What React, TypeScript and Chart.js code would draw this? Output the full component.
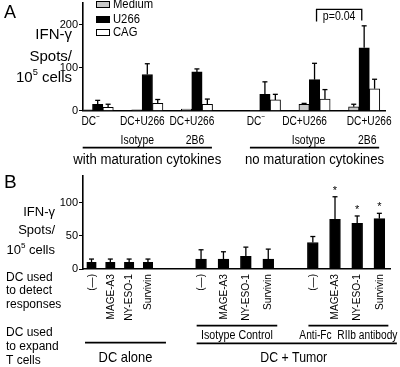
import React, { useEffect, useRef } from "react";
import { Chart, registerables } from "chart.js";

Chart.register(...registerables);

// ---------------- Panel A data ----------------
const aSeriesNames = ["Medium", "U266", "CAG"];
const aLabelsTop = ["DC-", "DC+U266", "DC+U266", "DC-", "DC+U266", "DC+U266"];
const aLabelsBottom = ["", "Isotype", "2B6", "", "Isotype", "2B6"];
const aSections = ["with maturation cytokines", "no maturation cytokines"];
const aMedium = [2, 2, 4, 1, 15, 9];
const aMediumErr = [0, 0, 0, 0, 2, 6];
const aU266 = [15, 84, 90, 38, 72, 146];
const aU266Err = [9, 25, 7, 29, 38, 51];
const aCAG = [8, 17, 15, 25, 27, 51];
const aCAGErr = [7, 9, 12, 13, 22, 22];
const aTicks = [0, 100, 200];
const aMax = 250;
const aPValue = "p=0.04";
const yLabelLines = ["IFN-γ", "Spots/", "10^5 cells"];

// ---------------- Panel B data ----------------
const bAntigens = ["(—)", "MAGE-A3", "NY-ESO-1", "Survivin"];
const bExpandGroups = ["DC alone", "DC + Tumor"];
const bTumorSub = ["Isotype Control", "Anti-Fc  RIIb antibody"];
const bValues = [10, 10, 10, 10, 15, 15, 19, 15, 40, 75, 69, 76];
const bErr = [5, 5, 5, 5, 14, 11, 14, 15, 9, 34, 11, 8];
const bSignificant = [false, false, false, false, false, false, false, false, false, true, true, true];
const bTicks = [0, 50, 100];
const bMax = 140;
const bRowLabels = [
  ["DC used", "to detect", "responses"],
  ["DC used", "to expand", "T cells"],
];

// ---------------- layout / style constants ----------------
const FONT = "'Liberation Sans', Arial, Helvetica, sans-serif";
const A_GAP = 0.37;
const A_OFFSETS = [-0.21, 0, 0.21];
const A_COLORS = ["#c8c8c8", "#000000", "#ffffff"];
const A_LABEL_SHIFT = [-7, -5, -5, -9, -10, 5];
const A_SUB_SHIFT = [0, -10, -2, 0, -6, 3];
const B_GROUP_START = [0.38, 5.27, 10.26];
const B_GROUP_STEP = [0.84, 1.0, 0.99];
const B_BAR_W = [9.5, 10.8, 10.8];

type Part = { t: string; sup?: boolean };

function parseParts(label: string): Part[] {
  const m = label.match(/^(.*)\^(\d+)(.*)$/);
  if (m) return [{ t: m[1] }, { t: m[2], sup: true }, { t: m[3] }];
  if (label.endsWith("-")) return [{ t: label.slice(0, -1) }, { t: "−", sup: true }];
  return [{ t: label }];
}

function drawRich(ctx: CanvasRenderingContext2D, label: string, x: number, y: number, size: number, align: string, sx = 1) {
  const parts = parseParts(label);
  ctx.save();
  ctx.fillStyle = "#000";
  ctx.textBaseline = "middle";
  ctx.textAlign = "left";
  const widths = parts.map((p) => {
    ctx.font = `${p.sup ? size * 0.62 : size}px ${FONT}`;
    return ctx.measureText(p.t).width * sx;
  });
  const total = widths.reduce((a, b) => a + b, 0);
  let cx = align === "left" ? x : align === "center" ? x - total / 2 : x - total;
  parts.forEach((p, i) => {
    ctx.font = `${p.sup ? size * 0.62 : size}px ${FONT}`;
    ctx.save();
    ctx.translate(cx, y + (p.sup ? -size * 0.36 : 0));
    ctx.scale(sx, 1);
    ctx.fillText(p.t, 0, 0);
    ctx.restore();
    cx += widths[i];
  });
  ctx.restore();
}

function drawText(ctx: CanvasRenderingContext2D, s: string, x: number, y: number, size: number, align: CanvasTextAlign = "left", sx = 1, rot = 0, baseline: CanvasTextBaseline = "middle") {
  ctx.save();
  ctx.fillStyle = "#000";
  ctx.font = `${size}px ${FONT}`;
  ctx.textBaseline = baseline;
  ctx.textAlign = align;
  ctx.translate(x, y);
  if (rot) ctx.rotate(rot);
  ctx.scale(sx, 1);
  ctx.fillText(s, 0, 0);
  ctx.restore();
}

function line(ctx: CanvasRenderingContext2D, pts: number[][], w = 1.6) {
  ctx.save();
  ctx.strokeStyle = "#000";
  ctx.lineWidth = w;
  ctx.beginPath();
  pts.forEach((p, i) => (i === 0 ? ctx.moveTo(p[0], p[1]) : ctx.lineTo(p[0], p[1])));
  ctx.stroke();
  ctx.restore();
}

const errorBarPlugin = {
  id: "errbars",
  afterDatasetsDraw(chart: any) {
    const ctx = chart.ctx;
    const ys = chart.scales.y;
    chart.data.datasets.forEach((ds: any, di: number) => {
      const errs = ds.errors;
      if (!errs) return;
      const meta = chart.getDatasetMeta(di);
      meta.data.forEach((bar: any, i: number) => {
        const e = errs[i];
        if (!e) return;
        const v = ds.data[i].y;
        const y0 = ys.getPixelForValue(v);
        const y1 = ys.getPixelForValue(v + e);
        line(ctx, [[bar.x, y0], [bar.x, y1]], 1.3);
        line(ctx, [[bar.x - 2.5, y1], [bar.x + 2.5, y1]], 1.3);
      });
    });
  },
};

const aXPos = (g: number) => g + (g >= 3 ? A_GAP : 0);

const annotateA = {
  id: "annotA",
  afterDraw(chart: any) {
    const ctx = chart.ctx as CanvasRenderingContext2D;
    const xs = chart.scales.x;
    drawText(ctx, "A", 4, 18, 18, "left", 1, 0, "alphabetic");
    // y label
    const yl = [35, 57, 78];
    yLabelLines.forEach((t, i) => drawRich(ctx, t, 72, yl[i], 15, "right"));
    // legend
    const ly = [4.5, 19.5, 32.5];
    aSeriesNames.forEach((n, i) => {
      ctx.save();
      ctx.fillStyle = A_COLORS[i];
      ctx.strokeStyle = "#000";
      ctx.lineWidth = 1;
      ctx.fillRect(96, ly[i] - 3, 14, 6);
      ctx.strokeRect(96.5, ly[i] - 3, 13, 6);
      ctx.restore();
      drawText(ctx, n, 113, ly[i], 12.5, "left", 0.9);
    });
    // x labels
    aLabelsTop.forEach((t, g) => {
      const cx = xs.getPixelForValue(aXPos(g));
      drawRich(ctx, t, cx + A_LABEL_SHIFT[g], 121, 13, "center", 0.78);
      if (aLabelsBottom[g]) drawText(ctx, aLabelsBottom[g], cx + A_SUB_SHIFT[g], 140, 13, "center", 0.8);
    });
    // sections
    const secs = [[0, 2], [3, 5]];
    secs.forEach((s, i) => {
      const x0 = xs.getPixelForValue(aXPos(s[0])) - 15;
      const x1 = xs.getPixelForValue(aXPos(s[1])) + 15;
      line(ctx, [[x0, 147.7], [x1, 147.7]], 1.8);
      drawText(ctx, aSections[i], (x0 + x1) / 2, 160, 15.5, "center", 0.85);
    });
    // p-value bracket
    const px0 = xs.getPixelForValue(aXPos(4)) + 2;
    const px1 = xs.getPixelForValue(aXPos(5)) - 2.4;
    line(ctx, [[px0, 21.5], [px0, 9.3], [px1, 9.3], [px1, 20.5]], 1.3);
    drawText(ctx, aPValue, (px0 + px1) / 2, 16.5, 12, "center", 0.88);
  },
};

const annotateB = {
  id: "annotB",
  afterDraw(chart: any) {
    const ctx = chart.ctx as CanvasRenderingContext2D;
    const ys = chart.scales.y;
    drawText(ctx, "B", 4, 188, 19, "left", 1, 0, "alphabetic");
    const yl = [212, 230, 250];
    yLabelLines.forEach((t, i) => drawRich(ctx, t, 55, yl[i], 13, "right"));
    // row labels
    const ry = [[278, 291, 305], [333, 347, 361]];
    bRowLabels.forEach((rows, r) => rows.forEach((t, i) => drawText(ctx, t, 6, ry[r][i], 12, "left")));
    const barX: number[][] = [];
    chart.data.datasets.forEach((ds: any, di: number) => {
      const meta = chart.getDatasetMeta(di);
      barX.push(meta.data.map((b: any) => b.x));
      meta.data.forEach((b: any, i: number) => {
        drawText(ctx, bAntigens[i], b.x, 274, 11.5, "right", 0.88, -Math.PI / 2);
        const idx = di * bAntigens.length + i;
        if (bSignificant[idx]) {
          const top = ys.getPixelForValue(bValues[idx] + bErr[idx]);
          drawText(ctx, "*", b.x, top - 3, 11, "center", 1, 0, "alphabetic");
        }
      });
    });
    // group 1: DC alone
    const g1a = barX[0][0] - 6.5, g1b = barX[0][3] + 18;
    line(ctx, [[g1a, 342.7], [g1b, 342.7]], 1.8);
    drawText(ctx, bExpandGroups[0], (g1a + g1b) / 2, 358, 15, "center", 0.86);
    // tumor sub groups
    const subs = [1, 2].map((g) => [barX[g][0] - 4.4, barX[g][3] + 9]);
    subs.forEach((s, i) => {
      line(ctx, [[s[0], 325.7], [s[1], 325.7]], 1.8);
      drawText(ctx, bTumorSub[i], (s[0] + s[1]) / 2, 336, 12, "center", i === 0 ? 0.89 : 0.85);
    });
    const t0 = subs[0][0], t1 = subs[1][1] + 8.5;
    line(ctx, [[t0, 343.3], [t1, 343.3]], 1.8);
    drawText(ctx, bExpandGroups[1], (t0 + t1) / 2 - 3, 358, 15, "center", 0.82);
  },
};

const axisCommon = {
  border: { display: true, color: "#000", width: 1.6 },
};

export default function App() {
  const refA = useRef<HTMLCanvasElement>(null);
  const refB = useRef<HTMLCanvasElement>(null);

  useEffect(() => {
    const seriesVals = [aMedium, aU266, aCAG];
    const seriesErr = [aMediumErr, aU266Err, aCAGErr];
    const chartA = new Chart(refA.current as HTMLCanvasElement, {
      type: "bar",
      data: {
        datasets: seriesVals.map((vals, s) => ({
          label: aSeriesNames[s],
          data: vals.map((v, g) => ({ x: aXPos(g) + A_OFFSETS[s], y: v })),
          errors: seriesErr[s],
          backgroundColor: A_COLORS[s],
          borderColor: "#000",
          borderWidth: 1,
          barThickness: 10.4,
          grouped: false,
        })) as any,
      },
      options: {
        responsive: false,
        animation: false,
        events: [],
        layout: { padding: { left: 0, right: 15, top: 3, bottom: 0 } },
        plugins: { legend: { display: false }, tooltip: { enabled: false } },
        scales: {
          x: {
            type: "linear",
            min: -0.296,
            max: 5.79,
            offset: false,
            ticks: { display: false },
            grid: { display: false },
            ...axisCommon,
            afterFit: (s: any) => {
              s.height = 256.3;
              s.paddingLeft = 0;
              s.paddingRight = 0;
            },
          },
          y: {
            min: 0,
            max: aMax,
            ticks: { stepSize: 100, color: "#000", padding: 1, font: { size: 11, family: FONT } },
            grid: { drawOnChartArea: false, drawTicks: true, tickLength: 4, color: "#000", lineWidth: 1 },
            ...axisCommon,
            afterBuildTicks: (s: any) => {
              s.ticks = aTicks.map((v) => ({ value: v }));
            },
            afterFit: (s: any) => {
              s.width = 83;
              s.paddingTop = 0;
              s.paddingBottom = 0;
            },
          },
        },
      } as any,
      plugins: [errorBarPlugin, annotateA],
    });

    const chartB = new Chart(refB.current as HTMLCanvasElement, {
      type: "bar",
      data: {
        datasets: B_GROUP_START.map((start, g) => ({
          label: "group" + g,
          data: bAntigens.map((_, i) => ({ x: start + i * B_GROUP_STEP[g], y: bValues[g * bAntigens.length + i] })),
          errors: bErr.slice(g * bAntigens.length, (g + 1) * bAntigens.length),
          backgroundColor: "#000",
          borderColor: "#000",
          borderWidth: 1,
          barThickness: B_BAR_W[g],
          grouped: false,
        })) as any,
      },
      options: {
        responsive: false,
        animation: false,
        events: [],
        layout: { padding: { left: 0, right: 10, top: 176.2, bottom: 0 } },
        plugins: { legend: { display: false }, tooltip: { enabled: false } },
        scales: {
          x: {
            type: "linear",
            min: 0,
            max: 13.705,
            offset: false,
            ticks: { display: false },
            grid: { display: false },
            ...axisCommon,
            afterFit: (s: any) => {
              s.height = 98;
              s.paddingLeft = 0;
              s.paddingRight = 0;
            },
          },
          y: {
            min: 0,
            max: bMax,
            ticks: { stepSize: 50, color: "#000", padding: 1, font: { size: 11, family: FONT } },
            grid: { drawOnChartArea: false, drawTicks: true, tickLength: 4, color: "#000", lineWidth: 1 },
            ...axisCommon,
            afterBuildTicks: (s: any) => {
              s.ticks = bTicks.map((v) => ({ value: v }));
            },
            afterFit: (s: any) => {
              s.width = 83;
              s.paddingTop = 0;
              s.paddingBottom = 0;
            },
          },
        },
      } as any,
      plugins: [errorBarPlugin, annotateB],
    });

    return () => {
      chartA.destroy();
      chartB.destroy();
    };
  }, []);

  const cs: React.CSSProperties = { position: "absolute", left: 0, top: 0, width: 400, height: 367 };
  return (
    <div style={{ position: "absolute", left: 0, top: 0, width: 400, height: 367, background: "#fff" }}>
      <canvas ref={refA} width={400} height={367} style={cs} />
      <canvas ref={refB} width={400} height={367} style={cs} />
    </div>
  );
}
